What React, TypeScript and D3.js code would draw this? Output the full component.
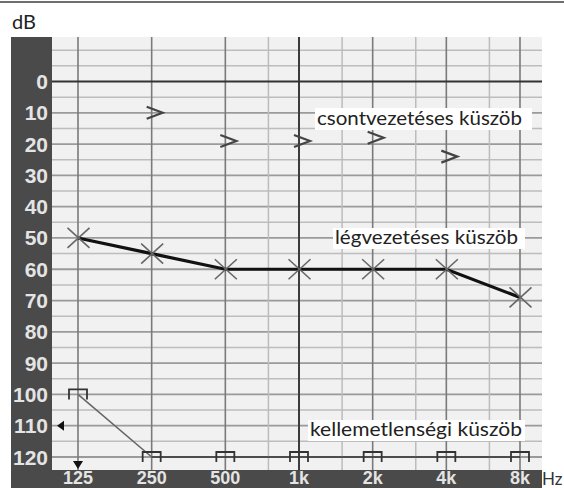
import React from 'react';
import * as d3 from 'd3';

const freqs = [125, 250, 500, 1000, 2000, 4000, 8000];
const freqLabels = ['125', '250', '500', '1k', '2k', '4k', '8k'];
const halfOctaves = [750, 1500, 3000, 6000];
const dbTicks = [0, 10, 20, 30, 40, 50, 60, 70, 80, 90, 100, 110, 120];
const minorDb = [-10, -5, 5, 15, 25, 35, 45, 55, 65, 75, 85, 95, 105, 115];
const airConduction = [50, 55, 60, 60, 60, 60, 69];
const boneFreqs = [250, 500, 1000, 2000, 4000];
const boneConduction = [10, 19, 19, 18, 24];
const uclValues = [100, 120, 120, 120, 120, 120, 120];
const labelTexts = ['csontvezetéses küszöb', 'légvezetéses küszöb', 'kellemetlenségi küszöb'];

const W = 564;
const H = 488;

export default function App() {
  const x = d3.scaleLog().base(2).domain([125, 8000]).range([78, 520]);
  const y = d3.scaleLinear().domain([0, 120]).range([81.5, 457]);
  const plotL = 52, plotR = 542, plotT = 37, plotB = 470;
  const bandL = 11;

  const airLine = d3.line<number>().x((_, i) => x(freqs[i])).y((d) => y(d));
  const uclFirst = d3.line<number>().x((_, i) => x(freqs[i])).y((d) => y(d))(uclValues.slice(0, 2));
  const uclRest = d3
    .line<number>()
    .x((_, i) => x(freqs[i + 1]))
    .y((d) => y(d))(uclValues.slice(1));

  const labelFont = 'Lato, "Open Sans", sans-serif';
  const numFont = '"Liberation Sans", Arial, sans-serif';

  return (
    <svg width={W} height={H} style={{ position: 'absolute', left: 0, top: 0 }}>
      <rect x={0} y={0} width={W} height={H} fill="#fff" />
      <line x1={0} x2={W} y1={2} y2={2} stroke="#6e6e6e" strokeWidth={2} />
      <text x={12} y={29} fontFamily={labelFont} fontSize={20} fill="#222">dB</text>

      {/* dark bands */}
      <rect x={bandL} y={plotT} width={plotL - bandL} height={H - plotT} fill="#4a4a4a" />
      <rect x={bandL} y={plotB} width={plotR - bandL} height={H - plotB} fill="#4a4a4a" />

      {/* plot background */}
      <rect x={plotL} y={plotT} width={plotR - plotL} height={plotB - plotT} fill="#f1f1f1" />

      {/* minor horizontal */}
      {minorDb.map((d) => (
        <line key={'m' + d} x1={plotL} x2={plotR} y1={y(d)} y2={y(d)} stroke="#bdbdbd" strokeWidth={1.5} />
      ))}
      {dbTicks.filter((d) => d !== 0).map((d) => (
        <line key={'h' + d} x1={plotL} x2={plotR} y1={y(d)} y2={y(d)} stroke="#9a9a9a" strokeWidth={1.8} />
      ))}
      {/* half octave verticals */}
      {halfOctaves.map((f) => (
        <line key={'v' + f} x1={x(f)} x2={x(f)} y1={plotT} y2={plotB} stroke="#bcbcbc" strokeWidth={1.5} />
      ))}
      {freqs.map((f) => (
        <line
          key={'V' + f}
          x1={x(f)}
          x2={x(f)}
          y1={plotT}
          y2={plotB}
          stroke={f === 1000 ? '#3c3c3c' : '#7a7a7a'}
          strokeWidth={f === 1000 ? 2 : 1.6}
        />
      ))}
      <line x1={plotL} x2={plotR} y1={y(0)} y2={y(0)} stroke="#333" strokeWidth={2.2} />

      {/* left labels */}
      {dbTicks.map((d) => (
        <text
          key={'l' + d}
          x={48}
          y={y(d) + 7.5}
          textAnchor="end"
          fontFamily={numFont}
          fontWeight="bold"
          fontSize={21}
          fill="#e4e4e4"
        >
          {d}
        </text>
      ))}
      {/* bottom labels */}
      {freqs.map((f, i) => (
        <text
          key={'b' + f}
          x={x(f)}
          y={483.5}
          textAnchor="middle"
          fontFamily={numFont}
          fontWeight="bold"
          fontSize={18}
          fill="#e4e4e4"
        >
          {freqLabels[i]}
        </text>
      ))}
      <text x={542} y={485} fontFamily={labelFont} fontSize={17} fill="#333">Hz</text>

      {/* triangles */}
      <path d={`M${plotL + 5},${y(110)} l7,-5 l0,10 z`} fill="#111" />
      <path d={`M${x(125) - 5},${y(120) + 4} l10,0 l-5,8 z`} fill="#111" />

      {/* air conduction */}
      <path d={airLine(airConduction) || ''} fill="none" stroke="#111" strokeWidth={3.2} />
      {airConduction.map((d, i) => {
        const cx = x(freqs[i]) + 0.5;
        const cy = y(d);
        return (
          <g key={'x' + i} stroke="#666" strokeWidth={1.6}>
            <line x1={cx - 11} y1={cy - 10} x2={cx + 11} y2={cy + 10} />
            <line x1={cx - 11} y1={cy + 10} x2={cx + 11} y2={cy - 10} />
          </g>
        );
      })}

      {/* bone conduction */}
      {boneConduction.map((d, i) => {
        const cx = x(boneFreqs[i]) + 3;
        const cy = y(d);
        return (
          <path
            key={'bc' + i}
            d={`M${cx - 8},${cy - 6} L${cx + 8},${cy} L${cx - 8},${cy + 6}`}
            fill="none"
            stroke="#444"
            strokeWidth={2.2}
          />
        );
      })}

      {/* UCL */}
      <path d={uclFirst || ''} fill="none" stroke="#666" strokeWidth={1.6} />
      <path d={uclRest || ''} fill="none" stroke="#333" strokeWidth={1.6} />
      {uclValues.map((d, i) => {
        const cx = x(freqs[i]);
        const cy = y(d);
        return (
          <path
            key={'u' + i}
            d={`M${cx - 9},${cy + 5} L${cx - 9},${cy - 5} L${cx + 9},${cy - 5} L${cx + 9},${cy + 5}`}
            fill="none"
            stroke="#333"
            strokeWidth={1.8}
          />
        );
      })}

      {/* labels */}
      <rect x={315} y={108} width={217} height={22} fill="#fff" />
      <text x={317} y={125} fontFamily={labelFont} fontSize={19} fill="#222" textLength={205} lengthAdjust="spacingAndGlyphs">
        {labelTexts[0]}
      </text>
      <rect x={333} y={228} width={192} height={21} fill="#fff" />
      <text x={335} y={244} fontFamily={labelFont} fontSize={19} fill="#222" textLength={183} lengthAdjust="spacingAndGlyphs">
        {labelTexts[1]}
      </text>
      <rect x={308} y={420} width={217} height={21} fill="#fff" />
      <text x={310} y={436} fontFamily={labelFont} fontSize={19} fill="#222" textLength={212} lengthAdjust="spacingAndGlyphs">
        {labelTexts[2]}
      </text>
    </svg>
  );
}
